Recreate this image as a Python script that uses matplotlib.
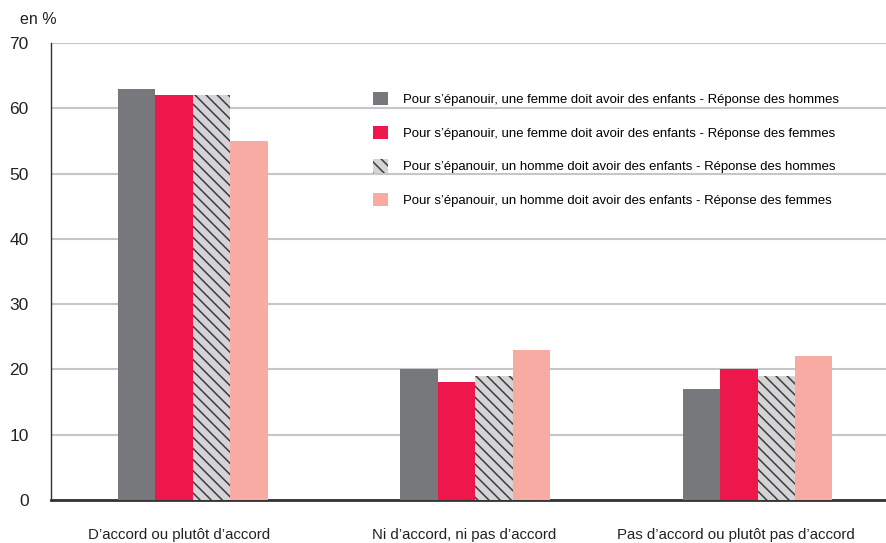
import numpy as np
import matplotlib.pyplot as plt
from matplotlib.transforms import ScaledTranslation

plt.rcParams['font.family'] = ['Liberation Sans', 'DejaVu Sans']
plt.rcParams['hatch.color'] = '#3c3c3e'
plt.rcParams['hatch.linewidth'] = 1.1

categories = ["D\u2019accord ou plut\u00f4t d\u2019accord", "Ni d\u2019accord, ni pas d\u2019accord",
              "Pas d\u2019accord ou plut\u00f4t pas d\u2019accord"]
series = ["Pour s\u2019\u00e9panouir, une femme doit avoir des enfants - R\u00e9ponse des hommes",
          "Pour s\u2019\u00e9panouir, une femme doit avoir des enfants - R\u00e9ponse des femmes",
          "Pour s\u2019\u00e9panouir, un homme doit avoir des enfants - R\u00e9ponse des hommes",
          "Pour s\u2019\u00e9panouir, un homme doit avoir des enfants - R\u00e9ponse des femmes"]
femme_hommes = [63, 20, 17]
femme_femmes = [62, 18, 20]
homme_hommes = [62, 19, 19]
homme_femmes = [55, 23, 22]
values = [femme_hommes, femme_femmes, homme_hommes, homme_femmes]

colors = ['#77787b', '#ed174b', '#d4d4d6', '#f7aba3']
hatches = [None, None, '\\\\\\', None]

fig = plt.figure(figsize=(8.87, 5.43), dpi=100)
ax = fig.add_axes([51/887, 1 - 500/543, 1 - 51/887, 457/543])

x = np.arange(len(categories))
w = 0.1325
for i, (vals, c, h) in enumerate(zip(values, colors, hatches)):
    ax.bar(x + (i - 1.5) * w, vals, w, color=c, hatch=h, linewidth=0, label=series[i], zorder=3)

ax.set_xlim(-0.502, 2.458)
ax.set_ylim(0, 70)
ax.set_yticks(range(0, 71, 10))
ax.yaxis.grid(True, color='#c6c6c8', linewidth=1.5, zorder=0)
ax.set_axisbelow(True)
ax.tick_params(axis='both', length=0, colors='#222222')
ax.tick_params(axis='y', pad=16, labelsize=12.5)
ax.tick_params(axis='x', pad=20, labelsize=10.8)
ax.set_xticks(x)
ax.set_xticklabels(categories)
# labels sit a bit left of the bar groups in the original
shifts = [-14, -11, -22]
for lab, dx in zip(ax.get_xticklabels(), shifts):
    lab.set_transform(lab.get_transform() + ScaledTranslation(dx / 100, 0, fig.dpi_scale_trans))
for s in ['top', 'right']:
    ax.spines[s].set_visible(False)
ax.spines['left'].set_color('#333333')
ax.spines['left'].set_linewidth(1.0)
ax.spines['bottom'].set_color('#333333')
ax.spines['bottom'].set_linewidth(2.0)

fig.text(20/887, 1 - 20/543, 'en %', fontsize=11.5, va='center', color='#222222')

leg = ax.legend(loc='upper left', bbox_to_anchor=(0.371, 0.919), frameon=False, fontsize=9.45,
                handlelength=1.18, handleheight=1.18, handletextpad=1.13, labelspacing=1.5)

fig.savefig('out.png', dpi=100, facecolor='white')
